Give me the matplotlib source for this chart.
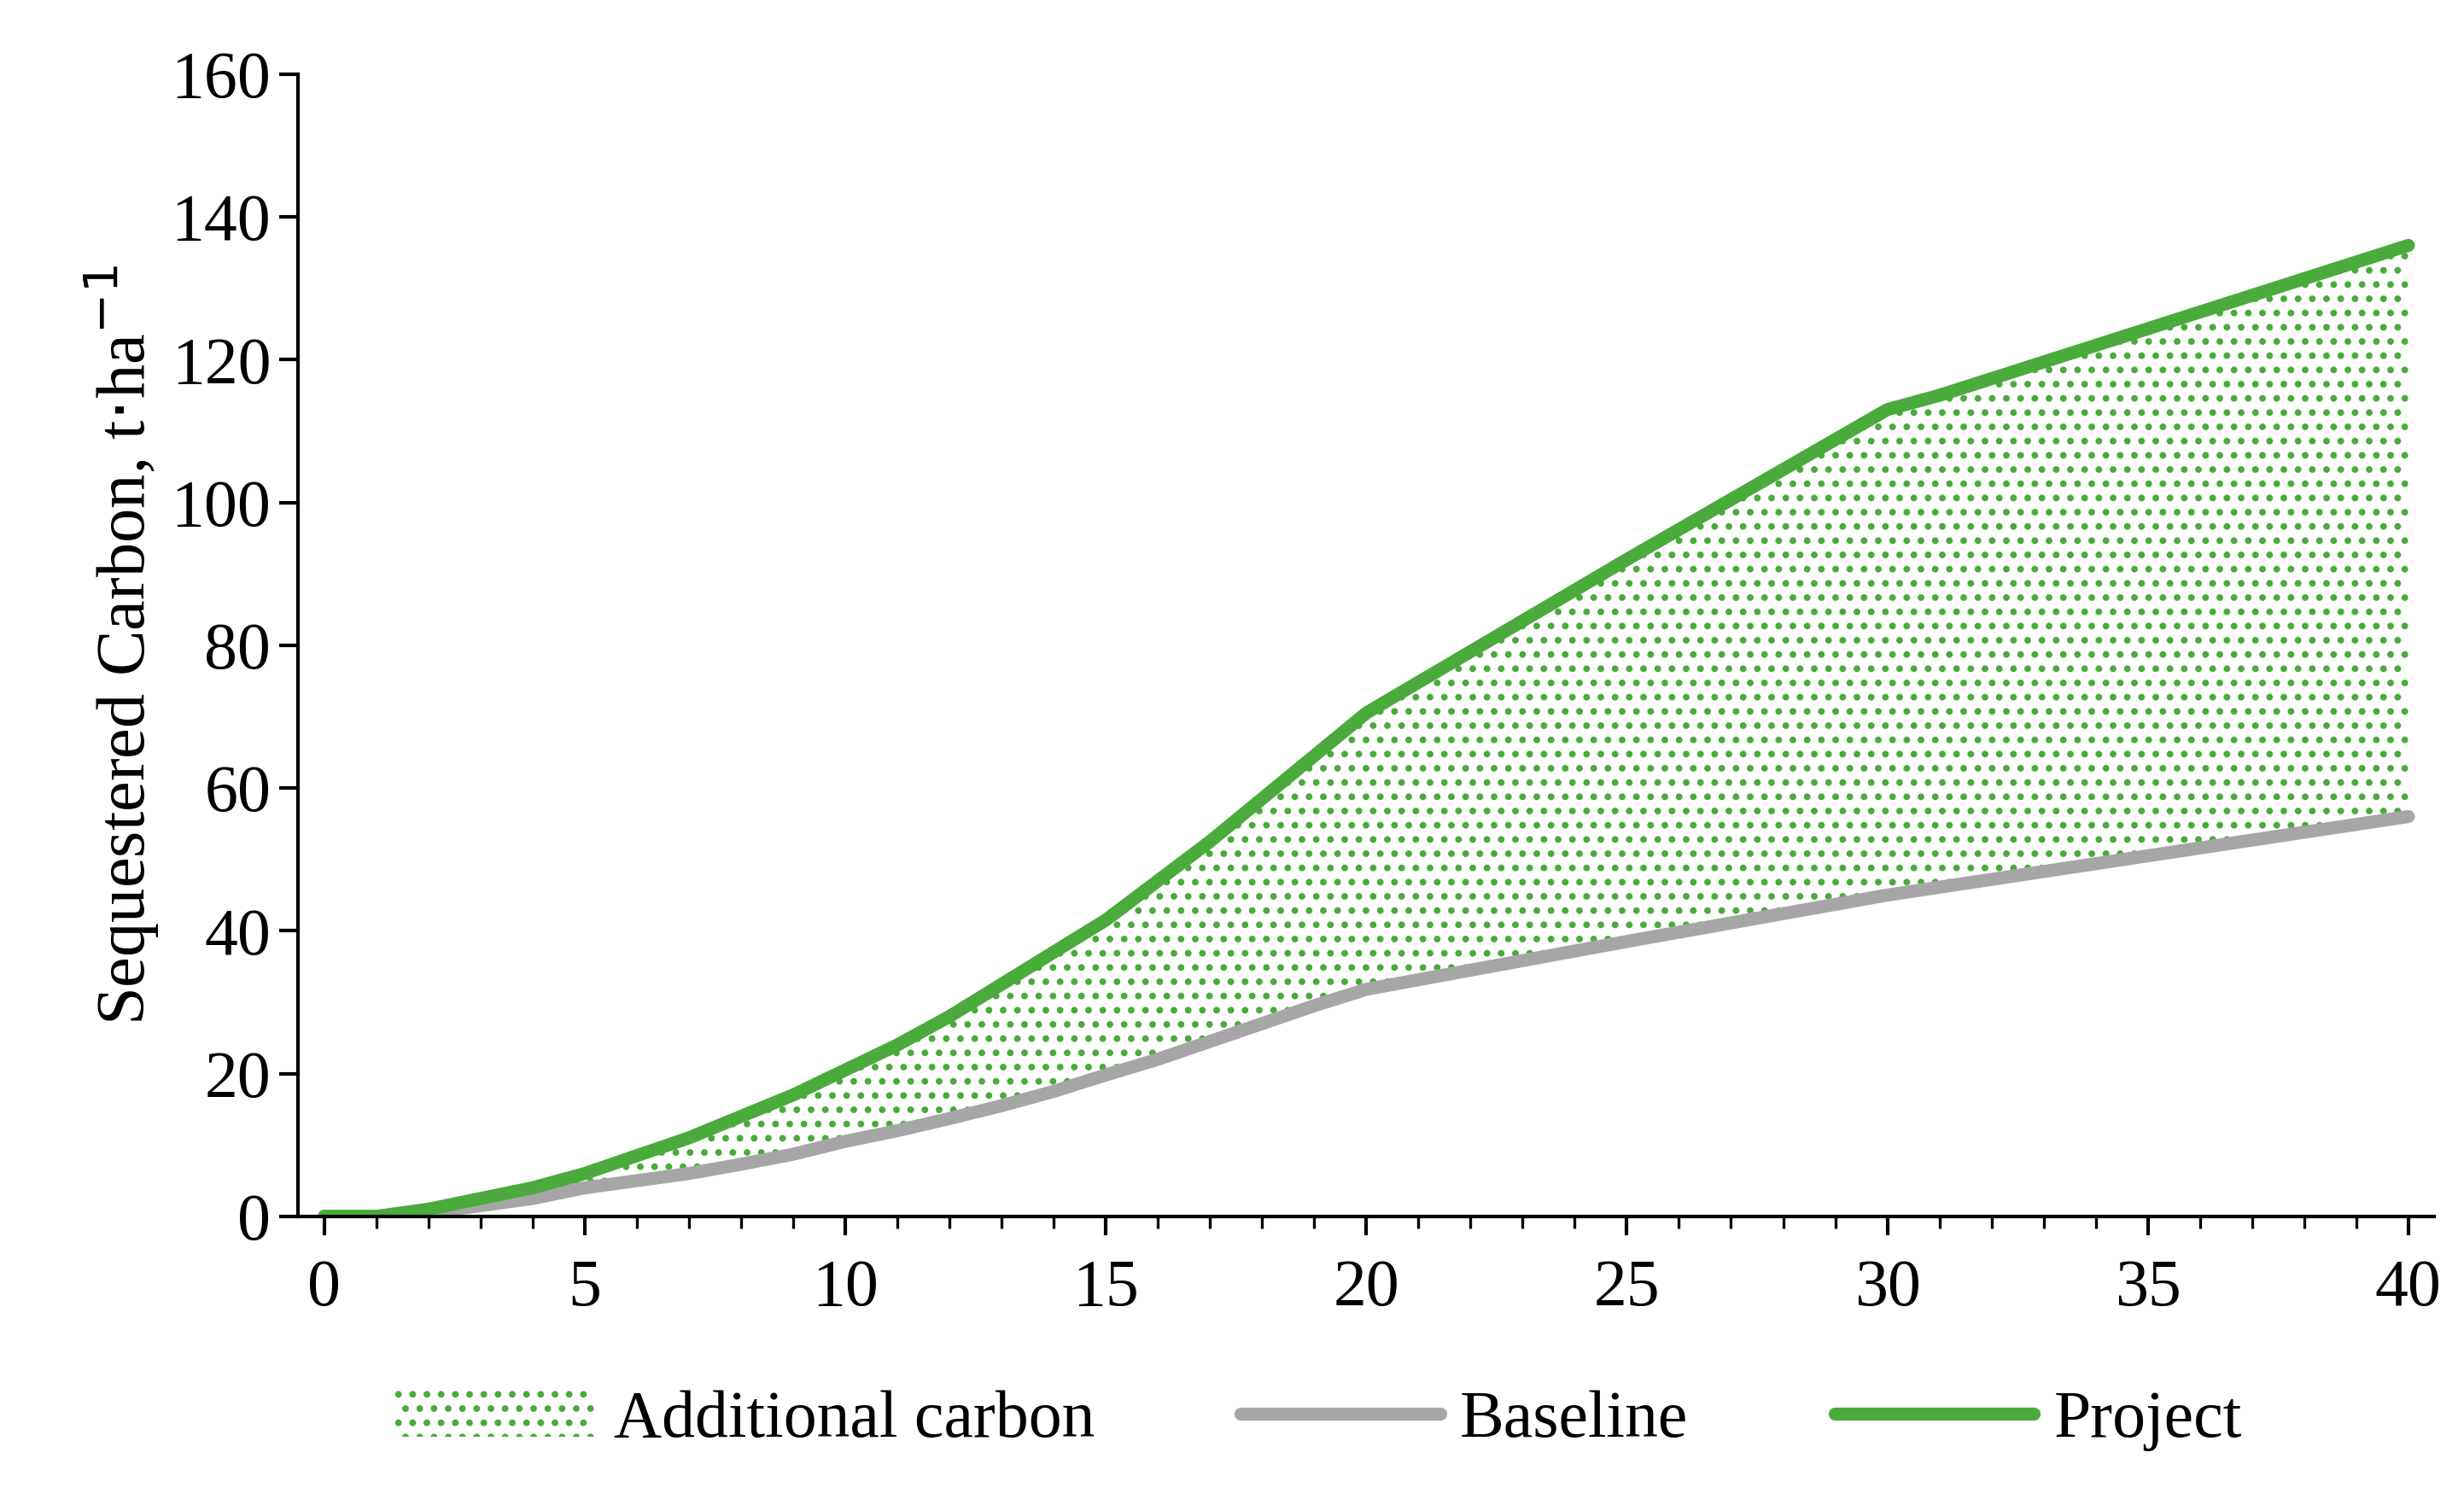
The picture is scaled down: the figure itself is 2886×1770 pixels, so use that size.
import matplotlib
matplotlib.use("Agg")
import matplotlib.pyplot as plt
import numpy as np

plt.rcParams['font.family'] = ['Liberation Serif', 'DejaVu Serif']
plt.rcParams['hatch.linewidth'] = 1.6

years_p = [0,1,2,3,4,5,6,7,8,9,10,11,12,13,14,15,16,17,18,19,20,25,30,31,40]
project = [0,0,1,2.5,4,6,8.5,11,14,17,20.5,24,28,32.5,37,41.5,47,52.5,58.5,64.5,70.5,92,113,115,136]
years_b = [0,1,2,3,4,5,6,7,8,9,10,11,12,13,14,15,16,17,18,19,20,25,30,40]
baseline = [0,0,0.5,1.5,2.5,4,5,6,7.3,8.7,10.5,12,13.7,15.5,17.5,19.8,22,24.5,27,29.5,31.8,38.5,45,56]

green = '#4aaa3c'
grey = '#a6a6a6'

fig = plt.figure(figsize=(14.43, 8.85), dpi=200)
ax = fig.add_axes([0.121, 0.195, 0.867, 0.756])

grid = np.array(years_p, dtype=float)
base_i = np.interp(grid, years_b, baseline)
ax.fill_between(grid, base_i, project, facecolor='none', edgecolor=green, hatch='..', linewidth=0, label='Additional carbon')
ax.plot(years_b, baseline, color=grey, lw=5.5, label='Baseline', solid_capstyle='round')
ax.plot(years_p, project, color=green, lw=5.5, label='Project', solid_capstyle='round')

ax.set_xlim(-0.5, 40.5)
ax.set_ylim(0, 160)
ax.set_xticks(range(0, 41, 5))
ax.set_xticks(range(0, 41), minor=True)
ax.set_yticks(range(0, 161, 20))
for s in ['top', 'right']:
    ax.spines[s].set_visible(False)
for s in ['left', 'bottom']:
    ax.spines[s].set_linewidth(1.5)
ax.tick_params(axis='both', which='major', direction='out', labelsize=28, width=1.5, length=8)
ax.tick_params(axis='x', which='minor', direction='out', width=1.2, length=5)
ax.tick_params(axis='x', pad=10)
ax.set_ylabel('Sequestered Carbon, t$\\cdot$ha$^{-1}$', fontsize=29)

fig.legend(loc='lower center', bbox_to_anchor=(0.535, 0.0), ncol=3, frameon=False, fontsize=28,
           handlelength=3.0, columnspacing=2.2, handletextpad=0.3)
fig.savefig('out.png', dpi=200)
